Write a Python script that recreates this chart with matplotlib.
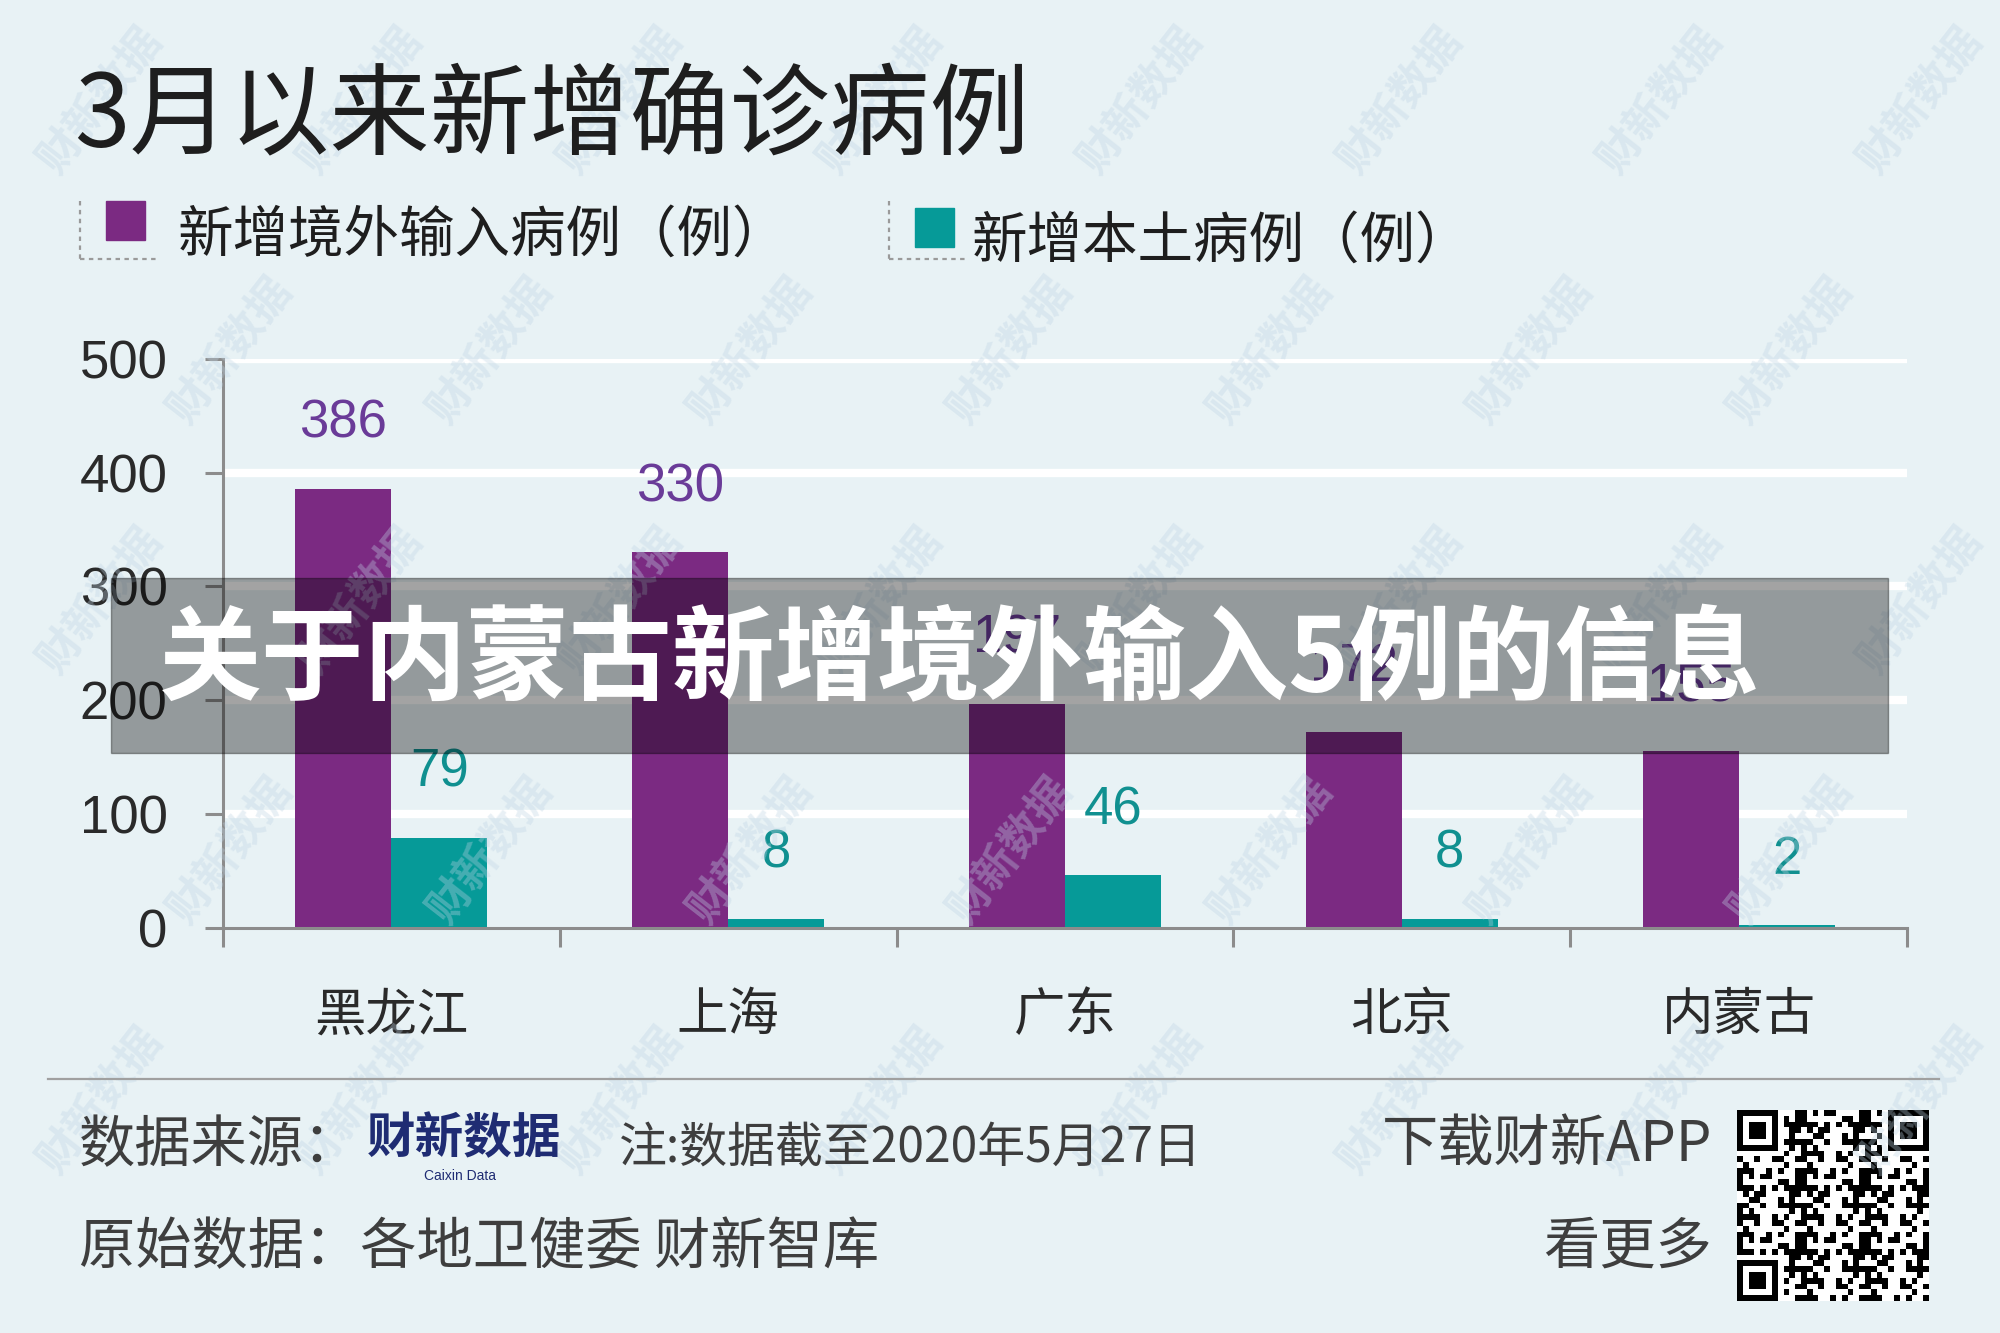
import matplotlib
matplotlib.use("Agg")
import matplotlib.pyplot as plt
from matplotlib.patches import Rectangle
from matplotlib.lines import Line2D
import numpy as np

# ---------------- data ----------------
categories = ["黑龙江", "上海", "广东", "北京", "内蒙古"]
imported = [386, 330, 197, 172, 155]
local = [79, 8, 46, 8, 2]
yticks = [0, 100, 200, 300, 400, 500]
series_names = ["新增境外输入病例（例）", "新增本土病例（例）"]

title = "3月以来新增确诊病例"
banner = "关于内蒙古新增境外输入5例的信息"

# ---------------- style ----------------
W, H = 2000, 1333
BG = "#E8F2F5"
PURPLE = "#7B2A82"
TEAL = "#069A98"
PURPLE_TXT = "#6A3B98"
TEAL_TXT = "#109090"
GRAY = "#8C8C8C"
CJK = ["Noto Sans CJK SC", "DejaVu Sans"]
NUM = ["Liberation Sans", "DejaVu Sans"]

plt.rcParams["font.family"] = CJK

fig = plt.figure(figsize=(W / 100, H / 100), dpi=100, facecolor=BG)


def fx(x):
    return x / W


def fy(y):
    return 1 - y / H


# ---------- watermarks (decorative) ----------
for r, yy in enumerate(range(100, 1300, 250)):
    off = 0 if r % 2 == 0 else 130
    for xx in range(100 + off, 1950, 260):
        fig.text(fx(xx), fy(yy), "财新数据", fontsize=31, fontweight="bold",
                 color="#BFD4E4", alpha=0.35, rotation=52, ha="center",
                 va="center", zorder=0.5)

# ---------------- axes ----------------
x0, x1, y0, y1 = 223, 1907, 927.7, 359
ax = fig.add_axes([fx(x0), fy(y0), fx(x1) - fx(x0), (y0 - y1) / H])
ax.set_facecolor("none")
ax.patch.set_alpha(0)

n = len(categories)
x = np.arange(n)
w = 0.285

ax.set_xlim(-0.5, n - 0.5)
ax.set_ylim(0, 500)

for t in yticks[1:]:
    ax.axhline(t, color="white", lw=6, zorder=1, solid_capstyle="butt")

ax.bar(x - w / 2, imported, width=w, color=PURPLE, zorder=3)
ax.bar(x + w / 2, local, width=w, color=TEAL, zorder=3)

for i in range(n):
    ax.annotate(str(imported[i]), (x[i] - w / 2, imported[i]),
                xytext=(0, 47), textcoords="offset points", ha="center",
                va="center", fontsize=38, color=PURPLE_TXT, family=NUM,
                zorder=4)
    ax.annotate(str(local[i]), (x[i] + w / 2, local[i]),
                xytext=(0, 47), textcoords="offset points", ha="center",
                va="center", fontsize=38, color=TEAL_TXT, family=NUM,
                zorder=4)

for s in ["top", "right"]:
    ax.spines[s].set_visible(False)
for s in ["left", "bottom"]:
    ax.spines[s].set_color(GRAY)
    ax.spines[s].set_linewidth(2.2)
    ax.spines[s].set_zorder(5)

ax.set_yticks(yticks)
ax.set_yticklabels([str(t) for t in yticks], family=NUM, fontsize=38,
                   color="#2A2A2A")
ax.tick_params(axis="y", direction="out", length=13, width=2.2, color=GRAY,
               pad=27)

ax.set_xticks(np.arange(n + 1) - 0.5)
ax.set_xticklabels([])
ax.tick_params(axis="x", which="major", direction="out", length=14,
               width=2.2, color=GRAY)
ax.set_xticks(x, minor=True)
ax.set_xticklabels(categories, minor=True, fontsize=37, color="#2A2A2A")
ax.tick_params(axis="x", which="minor", length=0, pad=44)

# ---------------- title ----------------
fig.text(fx(74), fy(119), title, fontsize=72, fontweight="light",
         color="#1E1E1E", ha="left", va="center")

# ---------------- legend ----------------
def legend_item(bx, sq_x, sq_y, tx, ty, color, label):
    fig.add_artist(Line2D([fx(bx), fx(bx)], [fy(201), fy(259)],
                          color="#9A9A9A", lw=1.6, ls=(0, (2, 2))))
    fig.add_artist(Line2D([fx(bx), fx(bx + 76)], [fy(259), fy(259)],
                          color="#9A9A9A", lw=1.6, ls=(0, (2, 2))))
    fig.patches.append(Rectangle((fx(sq_x), fy(sq_y + 39)), fx(39), 39 / H,
                                 transform=fig.transFigure, color=color,
                                 zorder=2))
    fig.text(fx(tx), fy(ty), label, fontsize=40, fontweight="light",
             color="#1E1E1E", ha="left", va="center")


legend_item(80, 106, 201, 178, 236, PURPLE, series_names[0])
legend_item(889, 915, 208, 972, 242, TEAL, series_names[1])

# ---------------- footer ----------------
fig.add_artist(Line2D([fx(48), fx(1939)], [fy(1079), fy(1079)],
                      color="#A0A0A0", lw=1.6))
FT = "#3E3E3E"
fig.text(fx(79), fy(1146), "数据来源：", fontsize=40.5, fontweight="light",
         color=FT, ha="left", va="center")
fig.text(fx(367), fy(1139), "财新数据", fontsize=35, fontweight="bold",
         color="#1F2C73", ha="left", va="center")
fig.text(fx(460), fy(1176), "Caixin Data", fontsize=10, color="#1F2C73",
         ha="center", va="center", family=NUM)
fig.text(fx(619), fy(1148), "注:数据截至2020年5月27日", fontsize=34.5,
         fontweight="light", color=FT, ha="left", va="center")
fig.text(fx(1712), fy(1146), "下载财新APP", fontsize=40.5, fontweight="light",
         color=FT, ha="right", va="center")
fig.text(fx(79), fy(1248), "原始数据：各地卫健委 财新智库", fontsize=40.5,
         fontweight="light", color=FT, ha="left", va="center")
fig.text(fx(1712), fy(1248), "看更多", fontsize=40.5, fontweight="light",
         color=FT, ha="right", va="center")

# QR-like code (decorative)
N = 33
qr = np.zeros((N, N))
ii, jj = np.meshgrid(np.arange(N), np.arange(N), indexing="ij")
qr[((ii * ii * 3 + jj * jj * 5 + ii * jj * 7 + ii + 2 * jj) % 11) < 5] = 1
for (r0, c0) in [(0, 0), (0, N - 7), (N - 7, 0)]:
    qr[max(r0 - 1, 0):r0 + 8, max(c0 - 1, 0):c0 + 8] = 0
    qr[r0:r0 + 7, c0:c0 + 7] = 1
    qr[r0 + 1:r0 + 6, c0 + 1:c0 + 6] = 0
    qr[r0 + 2:r0 + 5, c0 + 2:c0 + 5] = 1
qax = fig.add_axes([fx(1737), fy(1301), fx(192), 191 / H])
qax.imshow(qr, cmap="gray_r", interpolation="nearest", aspect="auto")
qax.set_axis_off()

# ---------------- overlay banner ----------------
fig.patches.append(Rectangle((fx(111), fy(753)), fx(1888) - fx(111),
                             (753 - 578) / H, transform=fig.transFigure,
                             color="black", alpha=0.36, zorder=10))
fig.text(fx(159), fy(662), banner, fontsize=74, fontweight=900,
         color="white", ha="left", va="center", zorder=11)

fig.savefig("out.png", dpi=100, facecolor=BG)
